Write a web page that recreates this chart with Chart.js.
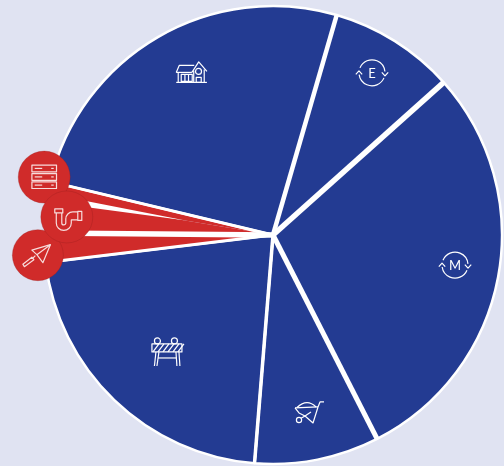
<!DOCTYPE html>
<html>
<head>
<meta charset="utf-8">
<script src="https://cdn.jsdelivr.net/npm/chart.js@4"></script>
<style>
  html, body { margin: 0; padding: 0; background: #e0e3f2; }
  #wrap { width: 504px; height: 466px; }
</style>
</head>
<body>
<div id="wrap"><canvas id="chart"></canvas></div>
<script>
// clockwise from the top boundary of the E slice, share of the circle in %
const categories = ['E', 'M', 'Wheelbarrow', 'Barrier', 'Trowel', 'Pipe', 'Server', 'House']
const shares = [8.9, 29.1, 8.8, 21.8, 2.05, 2.47, 1.14, 25.74]

const BLUE = '#233b92'
const RED = '#d02b2a'
const sliceColors = [BLUE, BLUE, BLUE, BLUE, RED, RED, RED, BLUE]
const sliceBorders = [2.5, 2.5, 2.5, 2.5, 0, 0, 0, 2.5]

// white divider drawn on the start edge of each slice
const gapWidths = [4.5, 5.5, 5, 3.5, 3, 5.5, 6, 3]
// server divider only opens up partway out, the rest run to the centre
const gapStarts = [0, 0, 0, 0, 0, 0, 90, 0]

// icon placement: angle from top in degrees, distance from centre in px
const iconAngles = [31.4, 99.4, 168.5, 222.2, 265.1, 275, 284.2, 333.3]
const iconDistances = [190, 184.5, 180.6, 157.9, 236, 207, 236, 182]
const badgeRadii = [0, 0, 0, 0, 25.5, 26, 26, 0]

function line(ctx, pts, close) {
  ctx.beginPath()
  pts.forEach((pt, i) => (i ? ctx.lineTo(pt[0], pt[1]) : ctx.moveTo(pt[0], pt[1])))
  if (close) ctx.closePath()
  ctx.stroke()
}

function ring(ctx, x, y, r) {
  ctx.beginPath()
  ctx.arc(x, y, r, 0, Math.PI * 2)
  ctx.stroke()
}

function cycle(ctx, letter) {
  const r = 13
  ctx.beginPath()
  ctx.arc(0, 0, r, -2.75, -0.1)
  ctx.stroke()
  ctx.beginPath()
  ctx.arc(0, 0, r, 0.4, 3.0)
  ctx.stroke()
  line(ctx, [[9.8, -0.5], [13, 3], [16.2, -0.5]])
  line(ctx, [[-16.2, 1.5], [-13, -2], [-9.8, 1.5]])
  ctx.font = '13px Lato, "Noto Sans", sans-serif'
  ctx.textAlign = 'center'
  ctx.textBaseline = 'middle'
  ctx.fillStyle = '#fff'
  ctx.fillText(letter, 0, 0.5)
}

const iconPainters = {
  House(ctx) {
    line(ctx, [[-15, 10], [15.7, 10]])
    line(ctx, [[-13, 10], [-13, 0]])
    line(ctx, [[-15, 0], [-12, -7], [3, -7]])
    line(ctx, [[-15, 0], [0.7, 0]])
    line(ctx, [[0.7, 0], [7.5, -10.5], [15.7, -1]])
    line(ctx, [[2.5, -2], [2.5, 10]])
    line(ctx, [[13, -3], [13, 10]])
    ring(ctx, 7.3, -1, 3)
    ctx.strokeRect(5, 5, 5, 5)
    ctx.strokeRect(-10, 2, 11, 7)
    line(ctx, [[-6.3, 2], [-6.3, 9]])
    line(ctx, [[-2.7, 2], [-2.7, 9]])
  },
  E(ctx) { cycle(ctx, 'E') },
  M(ctx) { cycle(ctx, 'M') },
  Wheelbarrow(ctx) {
    line(ctx, [[-14, -4], [9, -5], [-4, 4]].slice(0, 2))
    line(ctx, [[-14, -4], [-10, 1], [-4, 4], [4, 11], [9, -5]])
    line(ctx, [[-4, 4], [2, 0]])
    line(ctx, [[9, -5], [11, -10], [15, -10]])
    ctx.beginPath()
    ctx.moveTo(-12, -4.5)
    ctx.quadraticCurveTo(-2, -14, 7, -5)
    ctx.stroke()
    ring(ctx, -10, 8, 2.6)
    line(ctx, [[-8, 6.3], [-4, 4]])
  },
  Barrier(ctx) {
    ctx.strokeRect(-15, -8, 30, 8)
    for (let i = 0; i < 6; i++) line(ctx, [[-14 + i * 5, 0], [-8 + i * 5, -8]])
    line(ctx, [[-11, 0], [-12.5, 14]])
    line(ctx, [[-8, 0], [-10, 14]])
    line(ctx, [[9, 0], [10, 14]])
    line(ctx, [[12, 0], [13, 14]])
    line(ctx, [[-9, 6], [10, 6]])
    ring(ctx, -9.5, -11, 3)
    ring(ctx, 7.5, -11, 3)
  },
  Trowel(ctx) {
    line(ctx, [[12.5, -10.5], [-6, -5], [-1, -0.5], [5, 7.5]], true)
    line(ctx, [[12.5, -10.5], [-1, -0.5]])
    line(ctx, [[-2.5, 0.5], [-5, 3]])
    line(ctx, [[-6, 2], [-15, 9], [-13.5, 11.5], [-4, 4.5]], true)
  },
  Pipe(ctx) {
    ctx.strokeRect(-12, -8, 8, 4)
    ctx.strokeRect(11, -5.5, 4, 9)
    ctx.beginPath()
    ctx.moveTo(-10.5, -4)
    ctx.lineTo(-10.5, 6)
    ctx.arc(-3, 6, 7.5, Math.PI, 0, true)
    ctx.lineTo(4.5, 3)
    ctx.lineTo(11, 3)
    ctx.moveTo(-5, -4)
    ctx.lineTo(-5, 6)
    ctx.arc(-3, 6, 2, Math.PI, 0, true)
    ctx.lineTo(-1, 2)
    ctx.arc(6, 2, 7, Math.PI, -Math.PI / 2)
    ctx.lineTo(11, -5)
    ctx.stroke()
  },
  Server(ctx) {
    for (const y of [-12, -3.5, 4.7]) {
      ctx.strokeRect(-12.3, y, 24.6, 6.7)
      line(ctx, [[-9.5, y + 3.3], [-2, y + 3.3]])
      line(ctx, [[7, y + 3.3], [9.5, y + 3.3]])
    }
  },
}

const sliceDecor = {
  id: 'sliceDecor',
  afterDatasetsDraw(chart) {
    const ctx = chart.ctx
    const arcs = chart.getDatasetMeta(0).data
    const cx = arcs[0].x
    const cy = arcs[0].y
    const outer = arcs[0].outerRadius

    ctx.save()
    ctx.strokeStyle = '#fff'
    ctx.fillStyle = '#fff'
    arcs.forEach((arc, i) => {
      const ux = Math.cos(arc.startAngle)
      const uy = Math.sin(arc.startAngle)
      if (gapStarts[i]) {
        // thin white wedge, full width about 190px out from the centre
        const half = gapWidths[i] / 2 * (outer - gapStarts[i]) / (190 - gapStarts[i])
        ctx.beginPath()
        ctx.moveTo(cx + ux * gapStarts[i], cy + uy * gapStarts[i])
        ctx.lineTo(cx + ux * outer - uy * half, cy + uy * outer + ux * half)
        ctx.lineTo(cx + ux * outer + uy * half, cy + uy * outer - ux * half)
        ctx.closePath()
        ctx.fill()
      } else {
        ctx.lineWidth = gapWidths[i]
        line(ctx, [[cx, cy], [cx + ux * outer, cy + uy * outer]])
      }
    })

    // badges stack server, trowel, pipe
    const order = [0, 1, 2, 3, 6, 4, 5, 7]
    order.forEach((i) => {
      const a = (iconAngles[i] - 90) * Math.PI / 180
      const x = cx + Math.cos(a) * iconDistances[i]
      const y = cy + Math.sin(a) * iconDistances[i]
      ctx.save()
      ctx.translate(x, y)
      if (badgeRadii[i]) {
        ctx.fillStyle = RED
        ctx.strokeStyle = 'rgba(150,30,30,0.3)'
        ctx.lineWidth = 1
        ctx.beginPath()
        ctx.arc(0, 0, badgeRadii[i], 0, Math.PI * 2)
        ctx.fill()
        ctx.stroke()
      }
      ctx.strokeStyle = badgeRadii[i] ? '#f7dcdc' : '#fff'
      ctx.lineWidth = 1.2
      ctx.lineJoin = 'round'
      iconPainters[categories[i]](ctx)
      ctx.restore()
    })
    ctx.restore()
  },
}

new Chart(document.getElementById('chart'), {
  type: 'pie',
  data: {
    labels: categories,
    datasets: [{
      data: shares,
      backgroundColor: sliceColors,
      borderColor: '#fff',
      borderWidth: sliceBorders,
    }],
  },
  options: {
    responsive: true,
    maintainAspectRatio: false,
    animation: false,
    rotation: 16.15,
    radius: 229,
    layout: { padding: { left: 42, top: 4, right: 0, bottom: 0 } },
    plugins: {
      legend: { display: false },
      tooltip: { enabled: false },
    },
  },
  plugins: [sliceDecor],
})
</script>
</body>
</html>
